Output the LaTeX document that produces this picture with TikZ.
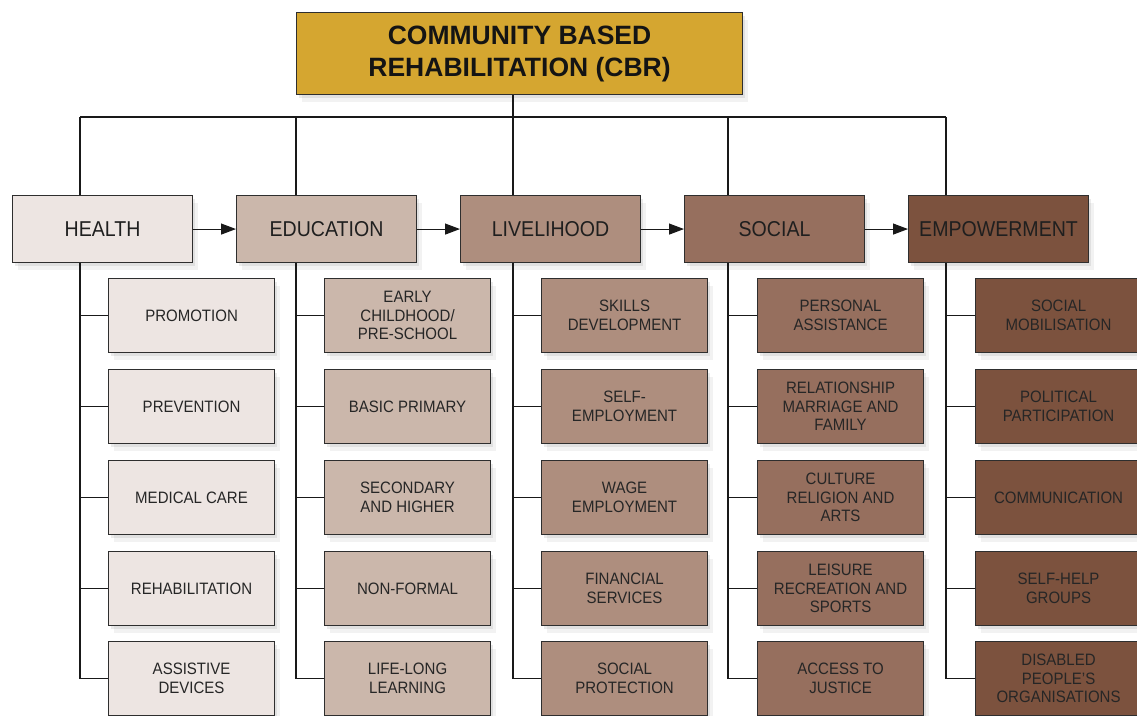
\documentclass[tikz,border=0pt]{standalone}
\usepackage{fontspec}
\newfontfamily\cbrfont[FakeStretch=0.91]{Liberation Sans}
\newfontfamily\cbrtitlefont{Liberation Sans}
\usetikzlibrary{arrows.meta,shadows}

\definecolor{cbrgold}{RGB}{213,166,48}
\definecolor{healthc}{RGB}{237,229,226}
\definecolor{educc}{RGB}{203,183,171}
\definecolor{livec}{RGB}{174,142,126}
\definecolor{socialc}{RGB}{150,111,94}
\definecolor{empowc}{RGB}{124,82,62}

\begin{document}
\begin{tikzpicture}[
        x=1pt, y=-1pt,
        boxbase/.style={draw=black!82, line width=1.1pt, align=center, anchor=north west, inner sep=2pt,
            drop shadow={shadow xshift=5pt, shadow yshift=-7pt, opacity=0.10},
            drop shadow={shadow xshift=2pt, shadow yshift=-3pt, opacity=0.16}},
        titlebox/.style={boxbase, fill=cbrgold, minimum width=446pt, minimum height=82pt,
            font=\cbrtitlefont\bfseries\fontsize{26.5}{32}\selectfont, text=black!92},
        catbox/.style={boxbase, minimum width=180pt, minimum height=67pt,
            font=\cbrfont\fontsize{21.5}{25}\selectfont, text=black!88},
        subbox/.style={boxbase, minimum width=166pt, minimum height=74pt,
            font=\cbrfont\fontsize{16.5}{18.5}\selectfont, text=black!85},
        link/.style={draw=black!90, line width=1.1pt},
        flow/.style={link, -{Triangle[length=15pt,width=11pt]}}
        ]
        \clip (0,0) rectangle (1137,715);

        \node [titlebox] (cbr) at (296,12) {COMMUNITY BASED\\REHABILITATION (CBR)};

        % main components
        \node [catbox, fill=healthc] (health) at (12,195) {HEALTH};
        \node [catbox, fill=educc] (educ) at (236,195) {EDUCATION};
        \node [catbox, fill=livec] (live) at (460,195) {LIVELIHOOD};
        \node [catbox, fill=socialc] (social) at (684,195) {SOCIAL};
        \node [catbox, fill=empowc] (empow) at (908,195) {EMPOWERMENT};

        % health
        \node [subbox, fill=healthc] (h1) at (108,278) {PROMOTION};
        \node [subbox, fill=healthc] (h2) at (108,369) {PREVENTION};
        \node [subbox, fill=healthc] (h3) at (108,460) {MEDICAL CARE};
        \node [subbox, fill=healthc] (h4) at (108,551) {REHABILITATION};
        \node [subbox, fill=healthc] (h5) at (108,641) {ASSISTIVE\\DEVICES};

        % education
        \node [subbox, fill=educc] (e1) at (324,278) {EARLY\\CHILDHOOD/\\PRE-SCHOOL};
        \node [subbox, fill=educc] (e2) at (324,369) {BASIC PRIMARY};
        \node [subbox, fill=educc] (e3) at (324,460) {SECONDARY\\AND HIGHER};
        \node [subbox, fill=educc] (e4) at (324,551) {NON-FORMAL};
        \node [subbox, fill=educc] (e5) at (324,641) {LIFE-LONG\\LEARNING};

        % livelihood
        \node [subbox, fill=livec] (l1) at (541,278) {SKILLS\\DEVELOPMENT};
        \node [subbox, fill=livec] (l2) at (541,369) {SELF-\\EMPLOYMENT};
        \node [subbox, fill=livec] (l3) at (541,460) {WAGE\\EMPLOYMENT};
        \node [subbox, fill=livec] (l4) at (541,551) {FINANCIAL\\SERVICES};
        \node [subbox, fill=livec] (l5) at (541,641) {SOCIAL\\PROTECTION};

        % social
        \node [subbox, fill=socialc] (s1) at (757,278) {PERSONAL\\ASSISTANCE};
        \node [subbox, fill=socialc] (s2) at (757,369) {RELATIONSHIP\\MARRIAGE AND\\FAMILY};
        \node [subbox, fill=socialc] (s3) at (757,460) {CULTURE\\RELIGION AND\\ARTS};
        \node [subbox, fill=socialc] (s4) at (757,551) {LEISURE\\RECREATION AND\\SPORTS};
        \node [subbox, fill=socialc] (s5) at (757,641) {ACCESS TO\\JUSTICE};

        % empowerment
        \node [subbox, fill=empowc] (p1) at (975,278) {SOCIAL\\MOBILISATION};
        \node [subbox, fill=empowc] (p2) at (975,369) {POLITICAL\\PARTICIPATION};
        \node [subbox, fill=empowc] (p3) at (975,460) {COMMUNICATION};
        \node [subbox, fill=empowc] (p4) at (975,551) {SELF-HELP\\GROUPS};
        \node [subbox, fill=empowc] (p5) at (975,641) {DISABLED\\PEOPLE’S\\ORGANISATIONS};

        % bus from the title
        \coordinate (hx) at (80,117);
        \coordinate (ex) at (296,117);
        \coordinate (lx) at (513,117);
        \coordinate (sx) at (728,117);
        \coordinate (px) at (946,117);
        \draw [link] (cbr.south -| lx) -- (lx);
        \draw [link] (hx) -- (px);

        \draw [link] (hx) -- (hx |- health.north);
        \draw [link] (ex) -- (ex |- educ.north);
        \draw [link] (lx) -- (lx |- live.north);
        \draw [link] (sx) -- (sx |- social.north);
        \draw [link] (px) -- (px |- empow.north);

        \draw [link] (hx |- health.south) -- (hx |- h5.west) -- (h5.west);
        \draw [link] (ex |- educ.south) -- (ex |- e5.west) -- (e5.west);
        \draw [link] (lx |- live.south) -- (lx |- l5.west) -- (l5.west);
        \draw [link] (sx |- social.south) -- (sx |- s5.west) -- (s5.west);
        \draw [link] (px |- empow.south) -- (px |- p5.west) -- (p5.west);
        \foreach \i in {1,...,4} {
            \draw [link] (hx |- h\i.west) -- (h\i.west);
            \draw [link] (ex |- e\i.west) -- (e\i.west);
            \draw [link] (lx |- l\i.west) -- (l\i.west);
            \draw [link] (sx |- s\i.west) -- (s\i.west);
            \draw [link] (px |- p\i.west) -- (p\i.west);
        }

        \draw [flow] (health) -- (educ);
        \draw [flow] (educ) -- (live);
        \draw [flow] (live) -- (social);
        \draw [flow] (social) -- (empow);
    \end{tikzpicture}
\end{document}
